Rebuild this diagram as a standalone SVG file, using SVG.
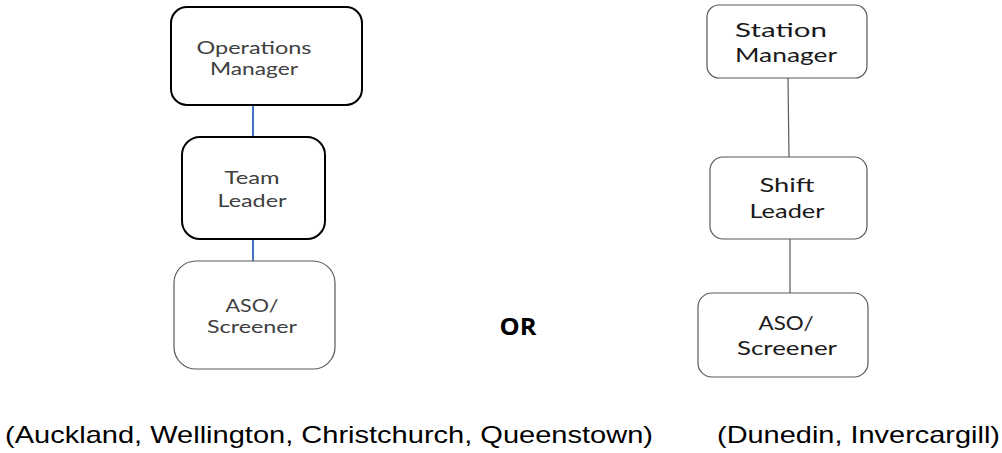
<svg xmlns="http://www.w3.org/2000/svg" width="1002" height="453" viewBox="0 0 1002 453">
<style>
.bold{fill:#fff;stroke:#000;stroke-width:2}
.thin{fill:#fff;stroke:#595959;stroke-width:1.2}
.lt{font-family:Lato,"Open Sans","Liberation Sans",sans-serif;font-size:17px;fill:#404040;text-anchor:middle}
.rt{font-family:Lato,"Open Sans","Liberation Sans",sans-serif;font-size:20px;fill:#1a1a1a;text-anchor:middle}
.cap{font-family:"Liberation Sans",Arial,sans-serif;font-size:24px;fill:#000}
</style>
<rect width="1002" height="453" fill="#fff"/>
<g id="connectors">
<line x1="253" y1="105" x2="253" y2="137" stroke="#4472c4" stroke-width="2"/>
<line x1="253" y1="239" x2="253" y2="261" stroke="#4472c4" stroke-width="2"/>
<line x1="788" y1="78" x2="789" y2="157" stroke="#595959" stroke-width="1.2"/>
<line x1="790" y1="239" x2="790" y2="293" stroke="#595959" stroke-width="1.2"/>
</g>
<g id="ops-manager">
<rect class="bold" x="171" y="7" width="191" height="98" rx="16"/>
<text class="lt" x="254" y="54" textLength="115" lengthAdjust="spacingAndGlyphs">Operations</text>
<text class="lt" x="254" y="75" textLength="88" lengthAdjust="spacingAndGlyphs">Manager</text>
</g>
<g id="team-leader">
<rect class="bold" x="182" y="137" width="143" height="102" rx="18"/>
<text class="lt" x="252" y="184" textLength="55" lengthAdjust="spacingAndGlyphs">Team</text>
<text class="lt" x="252" y="207" textLength="69" lengthAdjust="spacingAndGlyphs">Leader</text>
</g>
<g id="aso-left">
<rect class="thin" x="174" y="261" width="161" height="108" rx="22"/>
<text class="lt" x="252" y="312" textLength="53" lengthAdjust="spacingAndGlyphs">ASO/</text>
<text class="lt" x="252" y="333" textLength="90" lengthAdjust="spacingAndGlyphs">Screener</text>
</g>
<g id="or">
<text x="518" y="335" font-family="'Open Sans','Liberation Sans',sans-serif" font-size="24" font-weight="bold" text-anchor="middle" fill="#000" textLength="37" lengthAdjust="spacingAndGlyphs">OR</text>
</g>
<g id="station-manager">
<rect class="thin" x="707" y="5" width="160" height="73" rx="12"/>
<text class="rt" x="781" y="37" textLength="92" lengthAdjust="spacingAndGlyphs">Station</text>
<text class="rt" x="786" y="62" textLength="102" lengthAdjust="spacingAndGlyphs">Manager</text>
</g>
<g id="shift-leader">
<rect class="thin" x="710" y="157" width="157" height="82" rx="13"/>
<text class="rt" x="787" y="192" textLength="55" lengthAdjust="spacingAndGlyphs">Shift</text>
<text class="rt" x="787" y="218" textLength="75" lengthAdjust="spacingAndGlyphs">Leader</text>
</g>
<g id="aso-right">
<rect class="thin" x="698" y="293" width="170" height="84" rx="14"/>
<text class="rt" x="786" y="330" textLength="55" lengthAdjust="spacingAndGlyphs">ASO/</text>
<text class="rt" x="787" y="355" textLength="100" lengthAdjust="spacingAndGlyphs">Screener</text>
</g>
<g id="captions">
<text class="cap" x="5" y="443" textLength="648" lengthAdjust="spacingAndGlyphs">(Auckland, Wellington, Christchurch, Queenstown)</text>
<text class="cap" x="717" y="443" textLength="283" lengthAdjust="spacingAndGlyphs">(Dunedin, Invercargill)</text>
</g>
</svg>
